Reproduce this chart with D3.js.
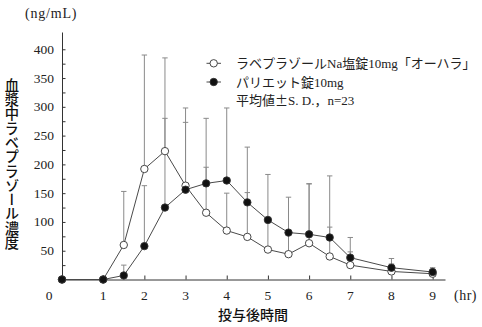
<!DOCTYPE html>
<html><head><meta charset="utf-8">
<script src="https://cdn.jsdelivr.net/npm/d3@7"></script>
<style>
html,body{margin:0;padding:0;background:#fff;}
svg{display:block;}
</style></head>
<body>
<script>
const times = [0, 1, 1.5, 2, 2.5, 3, 3.5, 4, 4.5, 5, 5.5, 6, 6.5, 7, 8, 9];
const oharaMean = [0, 0, 60, 192, 223, 163, 116, 85, 74, 52, 44, 63, 40, 25, 14, 10];
const oharaSD   = [0, 0, 93, 198, 162, 110, 79, 65, 77, 51, 37, 103, 51, 23, 13, 6];
const parietMean = [0, 0, 7, 58, 125, 156, 167, 172, 134, 103.5, 81.5, 78.5, 73, 38, 20.5, 13];
const parietSD   = [0, 0, 18, 105, 155, 142, 113, 126, 96, 79, 61.5, 88, 107, 35, 16, 7.5];
const xTicks = [1, 2, 3, 4, 5, 6, 7, 8, 9];
const yTicksMajor = [50, 100, 150, 200, 250, 300, 350, 400];
const yTicksMinor = d3.range(25, 401, 25);
const legendLabels = [
  [["ラベプラゾールNa塩錠10mg「オーハラ」", "serif"]],
  [["パリエット錠10mg", "serif"]],
  [["平均値", "serif"], ["±", "jp"], ["S. D.，n=23", "serif"]]
];

const W = 482, H = 327;
const svg = d3.select("body").append("svg").attr("width", W).attr("height", H);
const x = d3.scaleLinear().domain([0, 9.3]).range([62, 445]);
const y = d3.scaleLinear().domain([0, 430]).range([279.5, 32]);

const serif = "'Liberation Serif','Times New Roman','Noto Sans CJK JP',serif";
const jp = "'Noto Sans CJK JP',sans-serif";
const axisColor = "#333";

// axes
const gx = svg.append("g").attr("transform", `translate(0,${y(0)})`)
  .call(d3.axisBottom(x).tickValues(xTicks).tickSizeInner(-4).tickSizeOuter(0).tickFormat(d => ""));
const gy = svg.append("g").attr("transform", `translate(${x(0)},0)`)
  .call(d3.axisLeft(y).tickValues(yTicksMinor).tickSizeInner(-3.5).tickSizeOuter(0).tickFormat(d => ""));
[gx, gy].forEach(g => {
  g.select(".domain").attr("stroke", axisColor).attr("stroke-width", 1);
  g.selectAll(".tick line").attr("stroke", axisColor).attr("stroke-width", 1);
});

// tick labels
svg.append("g").selectAll("text").data(xTicks).join("text")
  .attr("x", d => x(d)).attr("y", 300).attr("text-anchor", "middle")
  .attr("font-family", serif).attr("font-size", 13.5).attr("fill", "#222").text(d => d);
svg.append("text").attr("x", 49).attr("y", 300).attr("text-anchor", "middle")
  .attr("font-family", serif).attr("font-size", 13.5).attr("fill", "#222").text("0");
svg.append("g").selectAll("text").data(yTicksMajor).join("text")
  .attr("x", 54).attr("y", d => y(d) + 4.5).attr("text-anchor", "end")
  .attr("font-family", serif).attr("font-size", 13.5).attr("fill", "#222").text(d => d);

// units & titles
svg.append("text").attr("x", 25).attr("y", 18).attr("text-anchor", "start")
  .attr("font-family", serif).attr("font-size", 14).attr("letter-spacing", 0.8)
  .attr("fill", "#222").text("(ng/mL)");
svg.append("text").attr("x", 454).attr("y", 300).attr("text-anchor", "start")
  .attr("font-family", serif).attr("font-size", 14).attr("letter-spacing", 0.5)
  .attr("fill", "#222").text("(hr)");
svg.append("text").attr("x", 253).attr("y", 320).attr("text-anchor", "middle")
  .attr("font-family", jp).attr("font-size", 14).attr("font-weight", 500).attr("fill", "#111").text("投与後時間");
svg.append("text").attr("x", 12).attr("y", 164).attr("text-anchor", "middle")
  .style("writing-mode", "vertical-rl")
  .attr("font-family", jp).attr("font-size", 14.3).attr("font-weight", 500).attr("fill", "#111")
  .text("血漿中ラベプラゾール濃度");

// data
const series = [
  {mean: oharaMean, sd: oharaSD, fill: "#fff"},
  {mean: parietMean, sd: parietSD, fill: "#111"}
];
const errColor = "#8a8a8a";
const capW = 2.7;
series.forEach(s => {
  const pts = times.map((t, i) => ({t, m: s.mean[i], sd: s.sd[i]})).filter(d => d.sd > 0);
  const g = svg.append("g");
  g.selectAll("line.bar").data(pts).join("line").attr("class", "bar")
    .attr("x1", d => x(d.t)).attr("x2", d => x(d.t))
    .attr("y1", d => y(d.m)).attr("y2", d => y(d.m + d.sd))
    .attr("stroke", errColor).attr("stroke-width", 1);
  g.selectAll("line.cap").data(pts).join("line").attr("class", "cap")
    .attr("x1", d => x(d.t) - capW).attr("x2", d => x(d.t) + capW)
    .attr("y1", d => y(d.m + d.sd)).attr("y2", d => y(d.m + d.sd))
    .attr("stroke", errColor).attr("stroke-width", 1);
});
const line = d3.line().x(d => x(d[0])).y(d => y(d[1]));
series.forEach(s => {
  svg.append("path").datum(times.map((t, i) => [t, s.mean[i]]))
    .attr("d", line).attr("fill", "none").attr("stroke", "#4a4a4a").attr("stroke-width", 1);
});
series.forEach(s => {
  svg.append("g").selectAll("circle").data(times.map((t, i) => [t, s.mean[i]])).join("circle")
    .attr("cx", d => x(d[0])).attr("cy", d => y(d[1])).attr("r", 3.7)
    .attr("fill", s.fill).attr("stroke", "#333").attr("stroke-width", 0.9);
});

// legend
const lg = svg.append("g");
const rows = [63.3, 82, 100.5];
series.forEach((s, i) => {
  lg.append("line").attr("x1", 206.5).attr("x2", 221).attr("y1", rows[i]).attr("y2", rows[i])
    .attr("stroke", "#4a4a4a").attr("stroke-width", 1);
  lg.append("circle").attr("cx", 213.7).attr("cy", rows[i]).attr("r", 3.7)
    .attr("fill", s.fill).attr("stroke", "#333").attr("stroke-width", 0.9);
});
legendLabels.forEach((parts, i) => {
  const t = lg.append("text").attr("x", 236).attr("y", rows[i] + 4.6)
    .attr("font-size", 13).attr("fill", "#222");
  parts.forEach(p => t.append("tspan").attr("font-family", p[1] === "jp" ? jp : serif).text(p[0]));
});
</script>
</body></html>
